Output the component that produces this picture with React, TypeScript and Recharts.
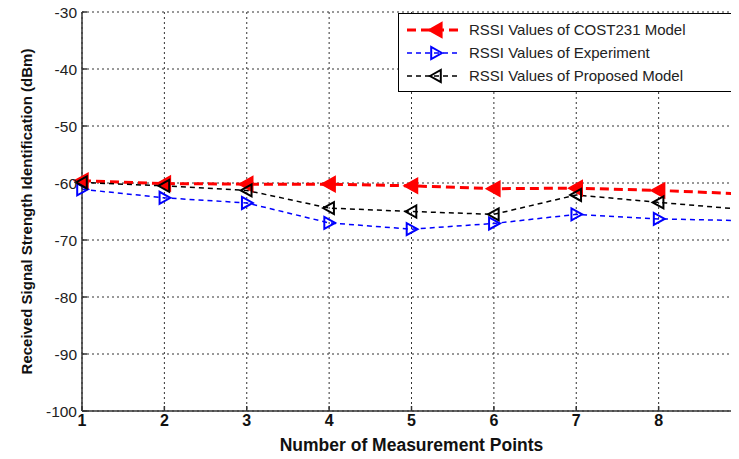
import { CartesianGrid, Legend, Line, LineChart, XAxis, YAxis, Label } from 'recharts';

const points = [1, 2, 3, 4, 5, 6, 7, 8, 9];
const cost231 = [-59.6, -60.1, -60.2, -60.2, -60.5, -61.0, -60.9, -61.3, -61.9];
const experiment = [-61.1, -62.6, -63.5, -67.0, -68.1, -67.1, -65.5, -66.3, -66.6];
const proposed = [-59.9, -60.5, -61.3, -64.4, -65.0, -65.5, -62.1, -63.4, -64.6];
const yTicks = [-100, -90, -80, -70, -60, -50, -40, -30];

const data = points.map((p, i) => ({
  point: p,
  cost231: cost231[i],
  experiment: experiment[i],
  proposed: proposed[i],
}));

const series = [
  { key: 'cost231', name: 'RSSI Values of COST231 Model', color: '#ff0000', dir: 'left', filled: true, width: 3, dash: '9 5' },
  { key: 'experiment', name: 'RSSI Values of Experiment', color: '#0000ff', dir: 'right', filled: false, width: 1.5, dash: '5 4' },
  { key: 'proposed', name: 'RSSI Values of Proposed Model', color: '#000000', dir: 'left', filled: false, width: 1.5, dash: '5 4' },
];

const tri = (cx: number, cy: number, dir: string, s: number) =>
  dir === 'left'
    ? `M${cx - s},${cy} L${cx + s * 0.8},${cy - s} L${cx + s * 0.8},${cy + s} Z`
    : `M${cx + s},${cy} L${cx - s * 0.8},${cy - s} L${cx - s * 0.8},${cy + s} Z`;

const makeDot = (dir: string, color: string, filled: boolean) => (props: any) => {
  const { cx, cy, index } = props;
  if (cx == null || cy == null) return <g key={index} />;
  return (
    <path
      key={index}
      d={tri(cx, cy, dir, filled ? 7.5 : 6)}
      fill={filled ? color : 'none'}
      stroke={color}
      strokeWidth={filled ? 1.5 : 2}
    />
  );
};

const LegendBox = () => (
  <div
    style={{
      border: '1px solid #000',
      background: '#fff',
      width: 335,
      padding: '4px 0',
      fontFamily: 'Liberation Sans, Arial, sans-serif',
      fontSize: 15,
      color: '#222',
      boxSizing: 'border-box',
    }}
  >
    {series.map((s) => (
      <div key={s.key} style={{ display: 'flex', alignItems: 'center', height: 23 }}>
        <svg width={70} height={20}>
          <line x1={8} y1={10} x2={62} y2={10} stroke={s.color} strokeWidth={s.width} strokeDasharray={s.dash} />
          <path d={tri(37, 10, s.dir, s.filled ? 7 : 6)} fill={s.filled ? s.color : 'none'} stroke={s.color} strokeWidth={2} />
        </svg>
        <span>{s.name}</span>
      </div>
    ))}
  </div>
);

export default function App() {
  return (
    <div style={{ width: 739, height: 459, overflow: 'hidden', margin: -8, background: '#fff', position: 'relative' }}>
      <LineChart width={742} height={459} data={data} margin={{ top: 12, right: 1, bottom: 0, left: 0 }}>
        <CartesianGrid stroke="#333" strokeDasharray="2 3" strokeWidth={1} />
        <XAxis
          dataKey="point"
          type="number"
          domain={[1, 9]}
          ticks={points}
          height={48}
          stroke="#333"
          strokeWidth={1.5}
          tickSize={-5}
          tickMargin={9}
          tick={{ fill: '#111', fontSize: 16, fontWeight: 'bold', fontFamily: 'Liberation Sans, Arial' }}
        >
          <Label
            value="Number of Measurement Points"
            position="insideBottom"
            offset={8}
            style={{ fill: '#111', fontSize: 17.5, fontWeight: 'bold', fontFamily: 'Liberation Sans, Arial' }}
          />
        </XAxis>
        <XAxis
          xAxisId="top"
          orientation="top"
          type="number"
          domain={[1, 9]}
          ticks={points}
          height={0}
          stroke="#333"
          strokeWidth={1.5}
          tickSize={-5}
          tick={false}
        />
        <YAxis
          type="number"
          domain={[-100, -30]}
          ticks={yTicks}
          width={82}
          stroke="#333"
          strokeWidth={1.5}
          tickSize={-5}
          tickMargin={10}
          tick={{ fill: '#222', fontSize: 15.5, fontFamily: 'Liberation Sans, Arial' }}
        >
          <Label
            value="Received Signal Strength Identification (dBm)"
            angle={-90}
            position="insideLeft"
            offset={27}
            style={{ textAnchor: 'middle', fill: '#111', fontSize: 15, fontWeight: 'bold', fontFamily: 'Liberation Sans, Arial' }}
          />
        </YAxis>
        <Legend
          layout="horizontal"
          verticalAlign="middle"
          align="center"
          content={<LegendBox />}
          wrapperStyle={{ top: 13, left: 398, width: 335 }}
        />
        {series.map((s) => (
          <Line
            key={s.key}
            type="linear"
            dataKey={s.key}
            name={s.name}
            stroke={s.color}
            strokeWidth={s.width}
            strokeDasharray={s.dash}
            dot={makeDot(s.dir, s.color, s.filled)}
            activeDot={false}
            isAnimationActive={false}
          />
        ))}
      </LineChart>
    </div>
  );
}
